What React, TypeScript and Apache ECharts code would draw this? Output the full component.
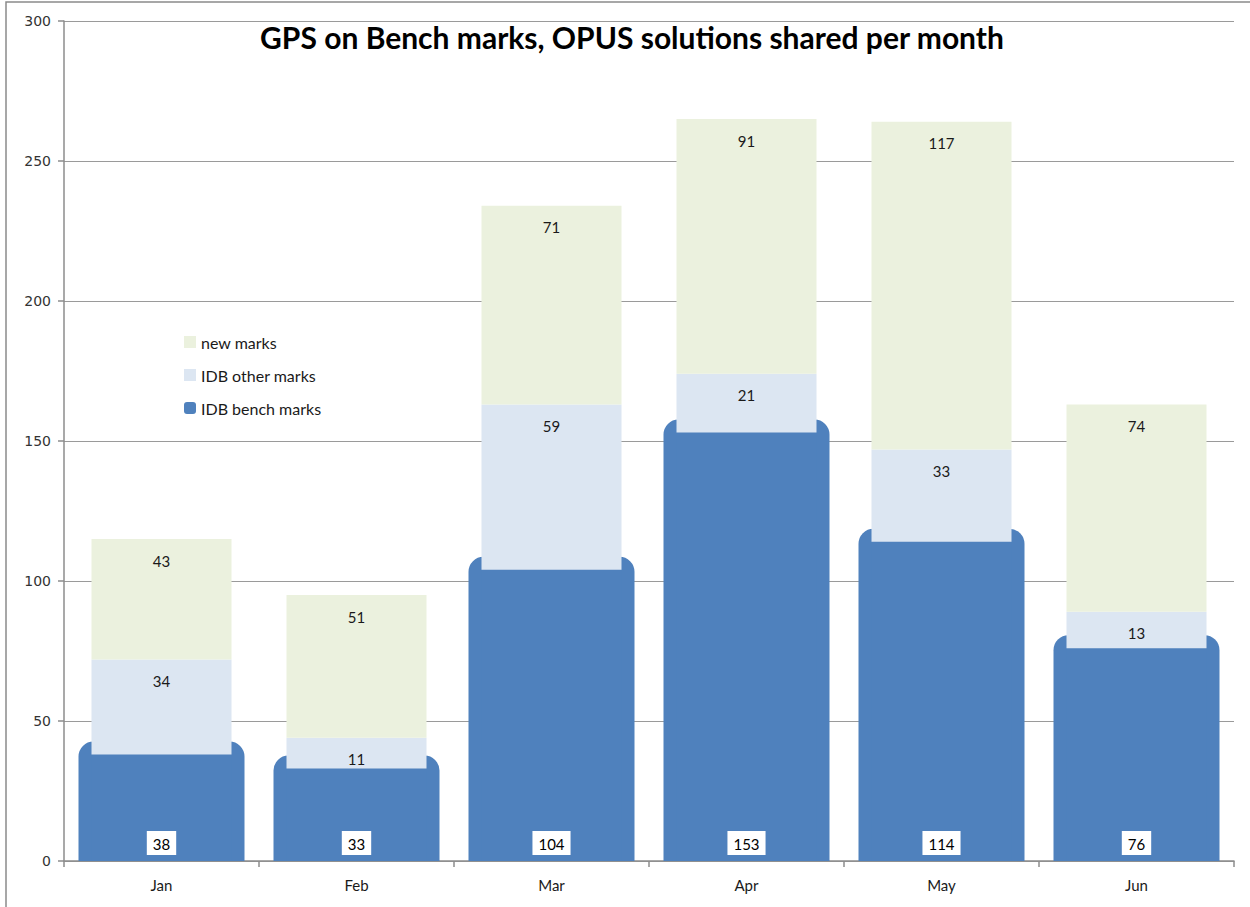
import React, { useEffect, useRef } from "react";
import * as echarts from "echarts";

const categories = ["Jan", "Feb", "Mar", "Apr", "May", "Jun"];
const benchMarks = [38, 33, 104, 153, 114, 76];
const otherMarks = [34, 11, 59, 21, 33, 13];
const newMarks = [43, 51, 71, 91, 117, 74];
const yTicks = { min: 0, max: 300, interval: 50 };

const FONT = "Lato, 'Noto Sans', sans-serif";
const BLUE = "#4f81bd";

export default function App() {
  const ref = useRef<HTMLDivElement>(null);
  useEffect(() => {
    if (!ref.current) return;
    const chart = echarts.init(ref.current, undefined, { renderer: "svg" });
    const valueLabel = {
      show: true,
      position: "insideTop" as const,
      distance: 14,
      color: "#1a1a1a",
      fontSize: 15,
      fontFamily: FONT,
    };
    chart.setOption({
      animation: false,
      backgroundColor: "#ffffff",
      title: {
        text: "GPS on Bench marks, OPUS solutions shared per month",
        left: 627,
        textAlign: "center",
        top: 17,
        textStyle: { fontFamily: FONT, fontWeight: "bold", fontSize: 30, color: "#000" },
      },
      legend: {
        orient: "vertical",
        left: 179,
        top: 329,
        itemGap: 17,
        itemWidth: 12,
        itemHeight: 12,
        textStyle: { fontFamily: FONT, fontSize: 16, color: "#1a1a1a" },
        data: [
          { name: "new marks", icon: "rect" },
          { name: "IDB other marks", icon: "rect" },
          { name: "IDB bench marks", icon: "roundRect" },
        ],
      },
      graphic: [
        {
          type: "rect",
          shape: { x: 6, y: 2, width: 1400, height: 1200 },
          style: { fill: "none", stroke: "#8a8a8a", lineWidth: 1.5 },
          silent: true,
        },
      ],
      grid: { left: 64, right: 16, top: 21, bottom: 46 },
      xAxis: {
        type: "category",
        data: categories,
        boundaryGap: true,
        axisLine: { lineStyle: { color: "#8c8c8c", width: 1.5 } },
        axisTick: { show: true, length: 6, lineStyle: { color: "#8c8c8c", width: 1.5 } },
        axisLabel: { fontFamily: FONT, fontSize: 15, color: "#1a1a1a", margin: 16 },
      },
      yAxis: {
        type: "value",
        min: yTicks.min,
        max: yTicks.max,
        interval: yTicks.interval,
        axisLine: { show: true, lineStyle: { color: "#8c8c8c", width: 1.5 } },
        axisTick: { show: true, length: 6, lineStyle: { color: "#8c8c8c", width: 1.5 } },
        splitLine: { lineStyle: { color: "#9a9a9a", width: 1.2 } },
        axisLabel: { fontFamily: "'DejaVu Sans', sans-serif", fontSize: 14, color: "#333", margin: 13 },
      },
      series: [
        {
          name: "bench outline",
          type: "custom",
          z: 1,
          silent: true,
          clip: true,
          encode: { x: 0, y: 1 },
          data: benchMarks.map((v, i) => [i, v]),
          renderItem: (params: any, api: any) => {
            const base = api.coord([api.value(0), 0]);
            const top = api.coord([api.value(0), api.value(1)]);
            const w = 166;
            const ext = 13;
            return {
              type: "rect",
              shape: {
                x: base[0] - w / 2,
                y: top[1] - ext,
                width: w,
                height: base[1] - top[1] + ext,
                r: [15, 15, 0, 0],
              },
              style: { fill: BLUE },
            };
          },
        },
        {
          name: "IDB bench marks",
          type: "bar",
          stack: "total",
          barWidth: 140,
          z: 2,
          data: benchMarks,
          itemStyle: { color: BLUE },
          label: {
            show: true,
            position: "insideBottom",
            distance: 6,
            color: "#000",
            fontSize: 15,
            fontFamily: FONT,
            backgroundColor: "#ffffff",
            padding: [5, 6, 4, 6],
          },
        },
        {
          name: "IDB other marks",
          type: "bar",
          stack: "total",
          barWidth: 140,
          z: 2,
          data: otherMarks,
          itemStyle: { color: "#dce6f2" },
          label: valueLabel,
        },
        {
          name: "new marks",
          type: "bar",
          stack: "total",
          barWidth: 140,
          z: 2,
          data: newMarks,
          itemStyle: { color: "#ebf1de" },
          label: valueLabel,
        },
      ],
    });
    return () => chart.dispose();
  }, []);
  return (
    <div
      ref={ref}
      style={{ position: "absolute", left: 0, top: 0, width: 1250, height: 907 }}
    />
  );
}
